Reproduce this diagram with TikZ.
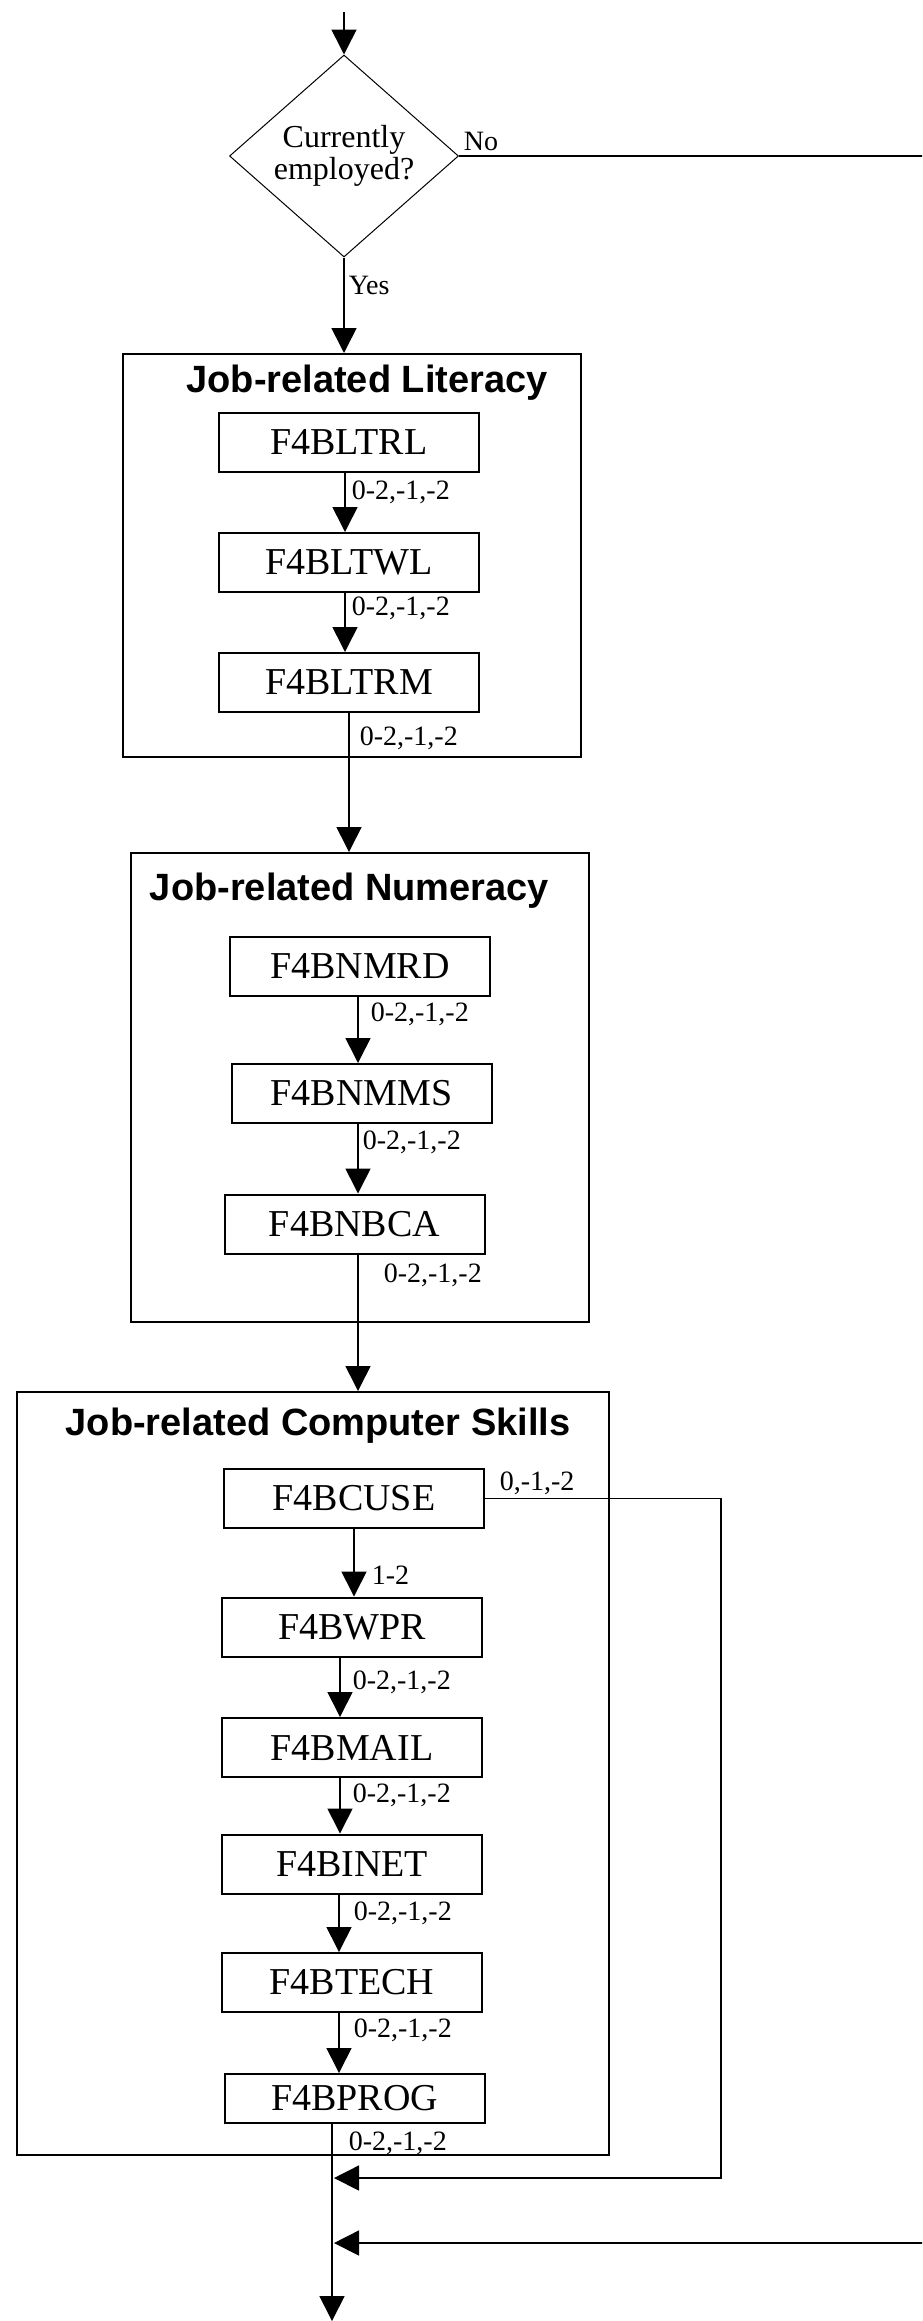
\documentclass[tikz,border=0pt]{standalone}
\usepackage{fontspec}
\setmainfont{Liberation Serif}
\newfontfamily\headfont{Liberation Sans}
\usetikzlibrary{shapes.geometric,arrows.meta}
\begin{document}
\begin{tikzpicture}[x=1pt, y=-1pt, line join=miter, >={Triangle[width=25pt,length=25pt]},
	box/.style={draw, line width=2pt, minimum width=260pt, minimum height=59pt, inner sep=0pt, font=\fontsize{38}{40}\selectfont},
	group/.style={draw, line width=2pt, inner sep=0pt},
	head/.style={anchor=base, inner sep=0pt, font=\headfont\bfseries\fontsize{38}{40}\selectfont},
	lbl/.style={anchor=west, inner sep=0pt, font=\fontsize{28}{28}\selectfont},
	conn/.style={line width=1.6pt}]
					\useasboundingbox (0,0) rectangle (922,2321);
					\clip (0,0) rectangle (922,2321);
					\node[draw, shape=diamond, line width=1pt, aspect=1.13, inner sep=0pt, minimum width=229pt, minimum height=202pt, align=center, font=\fontsize{32}{32}\selectfont] (dec) at (344,156) {Currently\\employed?};
					\node[group, minimum width=458pt, minimum height=403pt] (litbox) at (352,555.5) {};
					\node[group, minimum width=458pt, minimum height=469pt] (numbox) at (360,1087.5) {};
					\node[group, minimum width=592pt, minimum height=763pt] (compbox) at (313,1773.5) {};
					\node[head] (lithead) at (367,392) {Job-related Literacy};
					\node[head] (numhead) at (349.5,900) {Job-related Numeracy};
					\node[head] (comphead) at (318,1435) {Job-related Computer Skills};
					\node[box] (ltrl) at (349,442.5) {F4BLTRL};
					\node[box] (ltwl) at (349,562.5) {F4BLTWL};
					\node[box] (ltrm) at (349,682.5) {F4BLTRM};
					\node[box] (nmrd) at (360,966.5) {F4BNMRD};
					\node[box] (nmms) at (361.5,1093.5) {F4BNMMS};
					\node[box] (nbca) at (354.5,1224) {F4BNBCA};
					\node[box] (cuse) at (354,1498.5) {F4BCUSE};
					\node[box] (wpr) at (352,1627) {F4BWPR};
					\node[box] (mail) at (352,1747.5) {F4BMAIL};
					\node[box] (inet) at (352,1864) {F4BINET};
					\node[box] (tech) at (352,1982.5) {F4BTECH};
					\node[box, minimum height=49pt] (prog) at (354.5,2098.5) {F4BPROG};
					\coordinate (top) at (344,12);
					\coordinate (end) at (332,2321);
					\coordinate (m1) at (334,2178);
					\coordinate (m2) at (334,2243);
					\coordinate (loopR) at (721,1496);
					\coordinate (noR) at (940,152);
					\draw[conn,->] (top) -- (dec.north);
					\draw[conn,->] (dec.south) -- node[lbl, pos=0.29, xshift=4pt] {Yes} (dec.south |- litbox.north);
					\draw[conn,->] (dec.east) -- node[lbl, pos=0, anchor=south west, xshift=4pt, yshift=4pt] {No} (dec.east -| noR) |- (m2);
					\draw[conn,->] ([xshift=-4pt]ltrl.south) -- node[lbl, pos=0.33, xshift=6pt] {0-2,-1,-2} ([xshift=-4pt]ltwl.north);
					\draw[conn,->] ([xshift=-4pt]ltwl.south) -- node[lbl, pos=0.26, xshift=6pt] {0-2,-1,-2} ([xshift=-4pt]ltrm.north);
					\draw[conn,->] (ltrm.south) -- node[lbl, pos=0.18, xshift=10pt] {0-2,-1,-2} (ltrm.south |- numbox.north);
					\draw[conn,->] ([xshift=-2pt]nmrd.south) -- node[lbl, pos=0.26, xshift=12pt] {0-2,-1,-2} ([xshift=-2pt]nmrd.south |- nmms.north);
					\draw[conn,->] ([xshift=-3.5pt]nmms.south) -- node[lbl, pos=0.27, xshift=4pt] {0-2,-1,-2} ([xshift=-3.5pt]nmms.south |- nbca.north);
					\draw[conn,->] ([xshift=3.5pt]nbca.south) -- node[lbl, pos=0.15, xshift=25pt] {0-2,-1,-2} ([xshift=3.5pt]nbca.south |- compbox.north);
					\draw[conn,->] (cuse.south) -- node[lbl, pos=0.68, xshift=17pt] {1-2} (cuse.south |- wpr.north);
					\draw[conn,->] ([xshift=-12pt]wpr.south) -- node[lbl, pos=0.41, xshift=12pt] {0-2,-1,-2} ([xshift=-12pt]mail.north);
					\draw[conn,->] ([xshift=-12pt]mail.south) -- node[lbl, pos=0.31, xshift=12pt] {0-2,-1,-2} ([xshift=-12pt]inet.north);
					\draw[conn,->] ([xshift=-13pt]inet.south) -- node[lbl, pos=0.32, xshift=14pt] {0-2,-1,-2} ([xshift=-13pt]tech.north);
					\draw[conn,->] ([xshift=-13pt]tech.south) -- node[lbl, pos=0.29, xshift=14pt] {0-2,-1,-2} ([xshift=-13pt]tech.south |- prog.north);
					\draw[conn,->] ([xshift=-22.5pt]prog.south) -- node[lbl, pos=0.096, xshift=16pt] {0-2,-1,-2} (end);
					\draw[conn,->] (cuse.east) -- node[lbl, pos=0, anchor=base west, xshift=14pt, yshift=8pt] {0,-1,-2} (cuse.east -| loopR) |- (m1);
				\end{tikzpicture}
\end{document}
